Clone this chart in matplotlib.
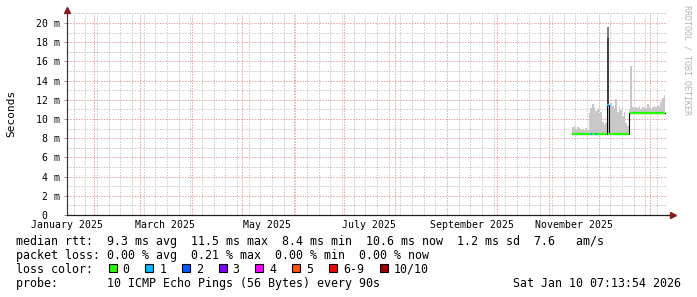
import numpy as np
import matplotlib
matplotlib.use('Agg')
import matplotlib.pyplot as plt
import matplotlib.dates as mdates
from matplotlib.patches import Rectangle
from matplotlib.ticker import MultipleLocator, FuncFormatter
from matplotlib.transforms import offset_copy
from datetime import datetime, timedelta

# ---------------- data ----------------
view_start = datetime(2025, 1, 16)
view_end = datetime(2026, 1, 11)
first_day = datetime(2025, 11, 15)   # one value per day from here

# median RTT per day (ms)
median_ms = [8.4, 8.4, 8.4, 8.4, 8.4, 8.4, 8.4, 8.4, 8.4, 8.4,
             8.4, 8.4, 8.4, 8.4, 8.4, 8.4, 8.4, 8.4, 8.4, 8.4,
             8.4, 11.5, 8.4, 8.4, 8.4, 8.4, 8.4, 8.4, 8.4, 8.4,
             8.4, 8.4, 8.4, 8.4, 10.6, 10.6, 10.6, 10.6, 10.6, 10.6,
             10.6, 10.6, 10.6, 10.6, 10.6, 10.6, 10.6, 10.6, 10.6, 10.6,
             10.6, 10.6, 10.6, 10.6, 10.6, 10.6]
# smoke extent per day (ms)
smoke_low_ms = [8.3, 8.3, 8.3, 8.3, 8.3, 8.3, 8.3, 8.3, 8.3, 8.3,
                8.3, 8.3, 8.3, 8.3, 8.3, 8.3, 8.3, 8.3, 8.3, 8.3,
                8.3, 8.3, 8.3, 8.3, 8.3, 8.3, 8.3, 8.3, 8.3, 8.3,
                8.3, 8.3, 8.3, 8.3, 10.5, 10.5, 10.5, 10.5, 10.5, 10.5,
                10.5, 10.5, 10.5, 10.5, 10.5, 10.5, 10.5, 10.5, 10.5, 10.5,
                10.5, 10.5, 10.5, 10.5, 10.5, 10.5]
smoke_high_ms = [9.2, 9.3, 9.0, 9.2, 9.1, 8.9, 9.0, 8.9, 9.1, 8.9,
                 10.6, 11.1, 11.6, 11.2, 10.8, 11.0, 10.4, 10.7, 9.7, 9.4,
                 9.6, 19.6, 11.3, 11.7, 11.4, 11.1, 12.1, 10.7, 11.4, 10.9,
                 10.3, 10.7, 9.6, 9.3, 11.0, 15.5, 11.2, 11.0, 11.3, 11.1,
                 11.4, 11.0, 11.2, 11.3, 11.1, 11.6, 11.2, 11.0, 11.3, 11.4,
                 11.2, 11.5, 11.3, 11.8, 12.2, 12.5]
# lost pings per day (of 10); None = unknown
loss = [0, 0, 0, 0, 0, 0, 0, 0, 0, 0,
        0, 1, 0, 0, 1, 0, 0, 0, 0, 0,
        0, 1, 0, 0, 0, 0, 0, 0, 0, 0,
        0, 0, 0, 0, None, 0, 0, 0, 0, 0,
        0, 0, 0, 0, 0, 0, 0, 0, 0, 0,
        0, 0, 0, 0, 0, 0]
# dense smoke layers for the outlier day
dense_day = [datetime(2025, 12, 6)]
dense_outer_top_ms = [19.6]
dense_inner_top_ms = [18.4]
dense_bottom_ms = [11.5]

loss_labels = ['0', '1', '2', '3', '4', '5', '6-9', '10/10']
loss_colors = ['#26ff00', '#00b8ff', '#0059ff', '#7e00ff', '#ff00ff', '#ff5500', '#ff0000', '#a10000']

stat_lines = [
    "median rtt:  9.3 ms avg  11.5 ms max  8.4 ms min  10.6 ms now  1.2 ms sd  7.6   am/s",
    "packet loss: 0.00 % avg  0.21 % max  0.00 % min  0.00 % now",
]
probe_text = "probe:       10 ICMP Echo Pings (56 Bytes) every 90s"
stamp_text = "Sat Jan 10 07:13:54 2026"

# ---------------- figure ----------------
W, H = 697, 297
MONO = 'DejaVu Sans Mono'
plt.rcParams['font.family'] = [MONO, 'DejaVu Sans']

fig = plt.figure(figsize=(W / 100, H / 100), dpi=100, facecolor='white')
ax_l, ax_r, ax_b, ax_t = 67, 667, 215, 13.4
ax = fig.add_axes([ax_l / W, 1 - ax_b / H, (ax_r - ax_l) / W, (ax_b - ax_t) / H])
ax.set_facecolor('white')

n = len(median_ms)
days = [first_day + timedelta(days=i) for i in range(n)]
edges = mdates.date2num(days + [days[-1] + timedelta(days=1)])
med = np.array(median_ms) / 1000.0
lo = np.array(smoke_low_ms) / 1000.0
hi = np.array(smoke_high_ms) / 1000.0

# smoke
ax.fill_between(edges, np.append(lo, lo[-1]), np.append(hi, hi[-1]), step='post',
                color='#c8c8c8', lw=0, zorder=2)
for d, ot, it, b in zip(dense_day, dense_outer_top_ms, dense_inner_top_ms, dense_bottom_ms):
    x0 = mdates.date2num(d)
    x1 = mdates.date2num(d + timedelta(days=1))
    ax.fill_between([x0, x1], [it / 1000] * 2, [ot / 1000] * 2, color='#808080', lw=0, zorder=2.1)
    ax.fill_between([x0, x1], [b / 1000] * 2, [it / 1000] * 2, color='#404040', lw=0, zorder=2.2)

# median: dark base line then loss-colored segments
ax.step(edges, np.append(med, med[-1]), where='post', color='#101010', lw=0.8, zorder=3)
def loss_color(l):
    if l is None:
        return None
    if l <= 5:
        return loss_colors[l]
    if l < 10:
        return loss_colors[6]
    return loss_colors[7]
ys, xs0, xs1, cs = [], [], [], []
for i, l in enumerate(loss):
    c = loss_color(l)
    if c is None:
        continue
    ys.append(med[i]); xs0.append(edges[i]); xs1.append(edges[i + 1]); cs.append(c)
ax.hlines(ys, xs0, xs1, colors=cs, lw=1.6, zorder=4, capstyle='butt')

# axes / grid
ax.set_xlim(mdates.date2num(view_start), mdates.date2num(view_end))
ax.set_ylim(0, 0.021)
ax.yaxis.set_major_locator(MultipleLocator(0.002))
ax.yaxis.set_minor_locator(MultipleLocator(0.001))
def yfmt(v, pos):
    k = int(round(v * 1000))
    return "0  " if k == 0 else f"{k} m"
ax.yaxis.set_major_formatter(FuncFormatter(yfmt))
ax.xaxis.set_major_locator(mdates.MonthLocator(bymonth=[1, 3, 5, 7, 9, 11], bymonthday=16))
ax.xaxis.set_major_formatter(mdates.DateFormatter('%B %Y'))
ax.xaxis.set_minor_locator(mdates.WeekdayLocator(byweekday=mdates.MO))

dot = (0, (1.4, 1.4))
minor_c = '#c8c8c8'
major_c = '#eba0a0'
ax.grid(False)
ax.xaxis.grid(True, which='minor', color=minor_c, lw=0.72, ls=dot, zorder=0)
ax.yaxis.grid(True, which='minor', color=minor_c, lw=0.72, ls=dot, zorder=0)
ax.yaxis.grid(True, which='major', color=major_c, lw=0.72, ls=dot, zorder=0.5)
xl = ax.get_xlim()
for m in mdates.MonthLocator().tick_values(mdates.num2date(xl[0]), mdates.num2date(xl[1])):
    if xl[0] < m < xl[1]:
        ax.axvline(m, color=major_c, lw=0.72, ls=dot, zorder=0.5)
ax.set_axisbelow(True)

ax.tick_params(axis='y', which='major', length=2.2, width=0.72, color='#909090', pad=2.5,
               labelsize=7.1, labelcolor='black')
ax.tick_params(axis='y', which='minor', length=0)
ax.tick_params(axis='x', which='both', length=0, pad=3.6, labelsize=7.1, labelcolor='black')
for lab in ax.get_yticklabels():
    lab.set_family(MONO)
for lab in ax.get_xticklabels():
    lab.set_family(MONO)

for s in ['top', 'right']:
    ax.spines[s].set_visible(False)
ax.spines['left'].set_color('#404040')
ax.spines['bottom'].set_color('#202020')
ax.spines['left'].set_linewidth(0.9)
ax.spines['bottom'].set_linewidth(0.9)
# axis extensions + arrows
ax.plot([0, 0], [1, 1.01], transform=ax.transAxes, color='#404040', lw=0.9, clip_on=False)
ax.plot([1, 1.006], [0, 0], transform=ax.transAxes, color='#202020', lw=0.9, clip_on=False)
ax.plot([0], [1], marker='^', ms=4.2, color='#8b1a1a', mec='#8b1a1a',
        transform=offset_copy(ax.transAxes, fig=fig, y=3, units='dots'), clip_on=False)
ax.plot([1], [0], marker='>', ms=4.2, color='#8b1a1a', mec='#8b1a1a',
        transform=offset_copy(ax.transAxes, fig=fig, x=6, units='dots'), clip_on=False)

# texts
def px(x, y):
    return x / W, 1 - y / H

fig.text(*px(11, 113.5), "Seconds", rotation=90, ha='center', va='center', fontsize=8, family=MONO)
fig.text(*px(687, 5), "RRDTOOL / TOBI OETIKER", rotation=270, ha='center', va='top',
         fontsize=6, color='#b4b4b4', family=MONO)

LEG = 8.4
fig.text(*px(16, 245), stat_lines[0], ha='left', va='baseline', fontsize=LEG, family=MONO)
fig.text(*px(16, 259), stat_lines[1], ha='left', va='baseline', fontsize=LEG, family=MONO)
fig.text(*px(16, 273), "loss color:", ha='left', va='baseline', fontsize=LEG, family=MONO)
cw = 7.02
bx = 108.5
for lab, col in zip(loss_labels, loss_colors):
    fig.add_artist(Rectangle(px(bx, 272), 8 / W, 8 / H, transform=fig.transFigure,
                             facecolor=col, edgecolor='black', lw=0.8))
    fig.text(*px(bx + 14, 273), lab, ha='left', va='baseline', fontsize=LEG, family=MONO)
    bx += 14 + cw * len(lab) + 15.7
fig.text(*px(16, 287), probe_text, ha='left', va='baseline', fontsize=LEG, family=MONO)
fig.text(*px(513.3, 287), stamp_text, ha='left', va='baseline', fontsize=LEG, family=MONO)

fig.savefig('out.png', dpi=100, facecolor='white')
